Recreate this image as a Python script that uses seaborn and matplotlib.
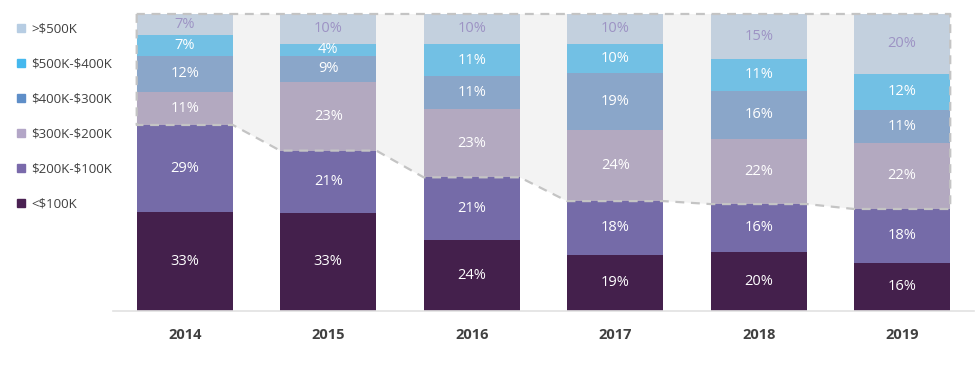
import numpy as np
import pandas as pd
import matplotlib.pyplot as plt
from matplotlib.lines import Line2D
import seaborn as sns

# data (percent of sales per price band)
years = ['2014', '2015', '2016', '2017', '2018', '2019']
bands = ['<$100K', '$200K-$100K', '$300K-$200K', '$400K-$300K', '$500K-$400K', '>$500K']
under_100k = [33, 33, 24, 19, 20, 16]
k100_200 = [29, 21, 21, 18, 16, 18]
k200_300 = [11, 23, 23, 24, 22, 22]
k300_400 = [12, 9, 11, 19, 16, 11]
k400_500 = [7, 4, 11, 10, 11, 12]
over_500k = [7, 10, 10, 10, 15, 20]

bar_colors = ['#44204c', '#756ba8', '#b3a9c0', '#8aa6c9', '#72c0e4', '#c3d0de']
legend_colors = ['#4a2152', '#7a6aab', '#b3a6c7', '#5e8ec8', '#45b8ee', '#b7cde3']
label_colors = ['white', 'white', 'white', 'white', 'white', '#9d93c4']

df = pd.DataFrame({'year': years, bands[0]: under_100k, bands[1]: k100_200,
                   bands[2]: k200_300, bands[3]: k300_400, bands[4]: k400_500,
                   bands[5]: over_500k})
vals = df[bands].astype(float)
vals = vals.div(vals.sum(axis=1), axis=0) * 100  # labels are rounded, bars fill to 100
cum = vals.cumsum(axis=1)

sns.set_style('white')
plt.rcParams['font.family'] = ['Open Sans', 'DejaVu Sans']

fig = plt.figure(figsize=(9.75, 3.66), dpi=100)
ax = fig.add_axes([0.1159, 0.1503, 0.883, 0.8115])

bw = 0.67
# grey zoom area behind the upper four bands
xs = np.arange(len(years))
top2 = cum[bands[1]].values
px, py = [], []
for i in xs:
    px += [i - bw / 2, i + bw / 2]
    py += [top2[i], top2[i]]
poly_x = [xs[0] - bw / 2] + px + [xs[-1] + bw / 2]
poly_y = [100] + py + [100]
ax.fill(poly_x, poly_y, color='#f3f3f3', zorder=0, lw=0)

# stacked bars: draw cumulative totals from the top band down
for j in range(len(bands) - 1, -1, -1):
    sns.barplot(x=df['year'], y=cum[bands[j]], color=bar_colors[j], width=bw,
                saturation=1, ax=ax, zorder=2, linewidth=0)

# dashed outline of the grey area
ax.plot(poly_x + [poly_x[0]], poly_y + [poly_y[0]], color='#c4c4c4', lw=1.6,
        ls=(0, (4, 3)), zorder=3, clip_on=False)

# segment labels
for j, b in enumerate(bands):
    for i in xs:
        mid = cum[b].iloc[i] - vals[b].iloc[i] / 2
        ax.text(i, mid, f'{df[b].iloc[i]}%', ha='center', va='center',
                color=label_colors[j], fontsize=10.5, zorder=4)

ax.set_xlim(-0.5, 5.5)
ax.set_ylim(0, 100)
ax.set_xlabel('')
ax.set_ylabel('')
ax.set_yticks([])
sns.despine(ax=ax, left=True)
ax.spines['bottom'].set_color('#e2e2e2')
ax.spines['bottom'].set_linewidth(1.2)
ax.tick_params(axis='x', length=0, pad=12)
for t in ax.get_xticklabels():
    t.set_fontweight('bold')
    t.set_fontsize(10.5)
    t.set_color('#404040')

handles = [Line2D([], [], marker='s', ls='', markersize=6, color=legend_colors[j])
           for j in range(len(bands) - 1, -1, -1)]
labels = [b.replace('$', r'\$') for b in bands[::-1]]
fig.legend(handles, labels, loc='upper left', bbox_to_anchor=(0.005, 0.972),
           frameon=False, fontsize=9.5, labelspacing=1.68, handlelength=0.7,
           handletextpad=0.4, labelcolor='#404040')

fig.savefig('out.png', dpi=100)
